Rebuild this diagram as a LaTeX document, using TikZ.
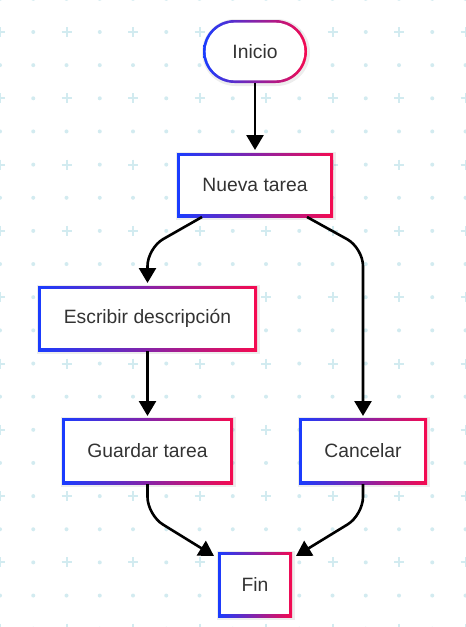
\documentclass[tikz,border=0pt]{standalone}
\usepackage{fontspec}
\setmainfont{Liberation Sans}
\usetikzlibrary{arrows.meta,shapes.misc}
\definecolor{gblue}{RGB}{25,60,255}
\definecolor{gred}{RGB}{245,10,80}
\definecolor{bgmark}{RGB}{210,235,240}
\definecolor{txt}{RGB}{51,51,51}
\tikzset{
  outerbox/.style={rectangle, inner sep=0pt, outer sep=0pt, left color=gblue, right color=gred, draw=none},
  outerpill/.style={rounded rectangle, inner sep=0pt, outer sep=0pt, left color=gblue, right color=gred, draw=none},
  innerbox/.style={rectangle, inner sep=0pt, fill=white, text=txt, font=\fontsize{19.3}{23}\selectfont},
  innerpill/.style={rounded rectangle, inner sep=0pt, fill=white, text=txt, font=\fontsize{19.3}{23}\selectfont},
  arr/.style={line width=2.6pt, draw=black, rounded corners=18pt, -{Triangle[length=15pt,width=17pt]}},
  shadowbox/.style={rectangle, inner sep=0pt, fill=black, fill opacity=0.07},
}
\begin{document}
\begin{tikzpicture}[x=1pt,y=-1pt]
\useasboundingbox (0,0) rectangle (466,627);
\fill[white] (0,0) rectangle (466,627);
% background grid
\foreach \i in {0,...,14}{
  \foreach \j in {-1,...,18}{
    \pgfmathsetmacro\xx{\i*33.25}
    \pgfmathsetmacro\yy{32+\j*33.15}
    \ifodd\i
      \fill[bgmark] (\xx,\yy) circle (2pt);
    \else
      \ifodd\j
        \fill[bgmark] (\xx,\yy) circle (2pt);
      \else
        \draw[bgmark, line width=2pt] (\xx-5,\yy) -- (\xx+5,\yy) (\xx,\yy-5) -- (\xx,\yy+5);
      \fi
    \fi
  }
}
% shadows
\node[shadowbox, minimum width=160pt, minimum height=68pt] at (256,186) {};
\node[shadowbox, minimum width=223pt, minimum height=69pt] at (148.5,319.5) {};
\node[shadowbox, minimum width=175pt, minimum height=70pt] at (148.5,452) {};
\node[shadowbox, minimum width=132pt, minimum height=70pt] at (364,452) {};
\node[shadowbox, minimum width=78pt, minimum height=69pt] at (256,585.5) {};
\node[rounded rectangle, inner sep=0pt, fill=black, fill opacity=0.07, minimum width=108pt, minimum height=67pt] at (256,52.5) {};
% nodes
\node[outerpill, minimum width=104pt, minimum height=63pt] (ini) at (255,51.5) {};
\node[innerpill, minimum width=98.6pt, minimum height=57.6pt] at (ini.center) {Inicio};
\node[outerbox, minimum width=156pt, minimum height=64pt] (nt) at (255,185) {};
\node[innerbox, minimum width=150.6pt, minimum height=58.6pt] at (nt.center) {Nueva tarea};
\node[outerbox, minimum width=219pt, minimum height=65pt] (esc) at (147.5,318.5) {};
\node[innerbox, minimum width=213.6pt, minimum height=59.6pt] at (esc.center) {Escribir descripción};
\node[outerbox, minimum width=171pt, minimum height=66pt] (gt) at (147.5,451) {};
\node[innerbox, minimum width=165.6pt, minimum height=60.6pt] at (gt.center) {Guardar tarea};
\node[outerbox, minimum width=128pt, minimum height=66pt] (can) at (363,451) {};
\node[innerbox, minimum width=122.6pt, minimum height=60.6pt] at (can.center) {Cancelar};
\node[outerbox, minimum width=74pt, minimum height=65pt] (fin) at (255,584.5) {};
\node[innerbox, minimum width=68.6pt, minimum height=59.6pt] at (fin.center) {Fin};
% connectors
\draw[arr] (ini.south) -- ([yshift=3pt]nt.north);
\draw[arr] ([xshift=25pt]nt.south west) -- (esc.north |- 0,248) -- ([yshift=3pt]esc.north);
\draw[arr] ([xshift=-26pt]nt.south east) -- (can.north |- 0,248) -- ([yshift=2pt]can.north);
\draw[arr] (esc.south) -- ([yshift=2pt]gt.north);
\draw[arr] (gt.south) -- (gt.south |- 0,515) -- ([shift={(-4pt,-4pt)}]fin.north west);
\draw[arr] (can.south) -- (can.south |- 0,515) -- ([shift={(4pt,-4pt)}]fin.north east);
\end{tikzpicture}
\end{document}
